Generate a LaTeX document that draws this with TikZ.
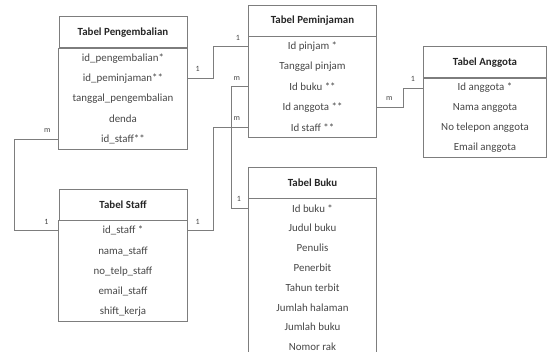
\documentclass[tikz,border=0pt]{standalone}
\usepackage{fontspec}
\setmainfont{Carlito}
\usepackage{tikz}
\usetikzlibrary{positioning, fit}
\usepackage{xcolor}
\definecolor{linegray}{RGB}{125,125,125}
\definecolor{textgray}{RGB}{70,70,70}
\tikzset{
  tabletitle/.style={
    rectangle, draw=linegray, line width=0.8pt, inner sep=0pt,
    minimum width=#1, minimum height=31pt,
    font=\fontsize{10.9}{12}\selectfont\bfseries, text=black!85
  },
  tabletitle/.default=128pt,
  field/.style={rectangle, inner sep=0pt, minimum width=#1, minimum height=19.8pt,
    font=\fontsize{10.9}{12}\selectfont, text=textgray},
  field/.default=128pt,
  shortfield/.style={field=#1, minimum height=19.4pt},
  shortfield/.default=128pt,
  tablebody/.style={rectangle, draw=linegray, line width=0.8pt, inner sep=0pt},
  link/.style={draw=linegray, line width=0.8pt},
  mult/.style={inner sep=0pt, font=\fontsize{8}{9}\selectfont, text=textgray}
}

\begin{document}
\begin{tikzpicture}[x=1pt, y=-1pt]
  \useasboundingbox (0,0) rectangle (547,352);

  % Tabel Pengembalian
  \node[tabletitle] (pg) at (123,32.2) {Tabel Pengembalian};
  \node[field, below=0pt of pg] (pg1) {id\_pengembalian*};
  \node[field, below=0pt of pg1] (pg2) {id\_peminjaman**};
  \node[field, below=0pt of pg2] (pg3) {tanggal\_pengembalian};
  \node[field, below=0pt of pg3] (pg4) {denda};
  \node[field, below=0pt of pg4] (pg5) {id\_staff**};
  \node[tablebody, fit=(pg1)(pg5)] (pgbody) {};

  % Tabel Peminjaman
  \node[tabletitle] (pj) at (312.5,20.5) {Tabel Peminjaman};
  \node[field, below=0pt of pj] (pj1) {Id pinjam *};
  \node[field, below=0pt of pj1] (pj2) {Tanggal pinjam};
  \node[field, below=0pt of pj2] (pj3) {Id buku **};
  \node[field, below=0pt of pj3] (pj4) {Id anggota **};
  \node[field, below=0pt of pj4] (pj5) {Id staff **};
  \node[tablebody, fit=(pj1)(pj5)] (pjbody) {};

  % Tabel Anggota
  \node[tabletitle=123pt] (ag) at (485,62.2) {Tabel Anggota};
  \node[shortfield=123pt, below=0pt of ag] (ag1) {Id anggota *};
  \node[shortfield=123pt, below=0pt of ag1] (ag2) {Nama anggota};
  \node[shortfield=123pt, below=0pt of ag2] (ag3) {No telepon anggota};
  \node[shortfield=123pt, below=0pt of ag3] (ag4) {Email anggota};
  \node[tablebody, fit=(ag1)(ag4)] (agbody) {};

  % Tabel Staff
  \node[tabletitle] (st) at (123,204.8) {Tabel Staff};
  \node[field, below=0pt of st] (st1) {id\_staff *};
  \node[field, below=0pt of st1] (st2) {nama\_staff};
  \node[field, below=0pt of st2] (st3) {no\_telp\_staff};
  \node[field, below=0pt of st3] (st4) {email\_staff};
  \node[field, below=0pt of st4] (st5) {shift\_kerja};
  \node[tablebody, fit=(st1)(st5)] (stbody) {};

  % Tabel Buku (runs past the bottom edge)
  \node[tabletitle] (bk) at (312.5,182.6) {Tabel Buku};
  \node[shortfield, below=0pt of bk] (bk1) {Id buku *};
  \node[shortfield, below=0pt of bk1] (bk2) {Judul buku};
  \node[shortfield, below=0pt of bk2] (bk3) {Penulis};
  \node[shortfield, below=0pt of bk3] (bk4) {Penerbit};
  \node[shortfield, below=0pt of bk4] (bk5) {Tahun terbit};
  \node[shortfield, below=0pt of bk5] (bk6) {Jumlah halaman};
  \node[shortfield, below=0pt of bk6] (bk7) {Jumlah buku};
  \node[shortfield, below=0pt of bk7] (bk8) {Nomor rak};
  \coordinate (bkend) at ([yshift=-8pt]bk8.south);
  \node[tablebody, fit=(bk1)(bk8)(bkend)] (bkbody) {};

  % relasi
  \draw[link] (pg2.east) node[mult, above right=6pt and 8pt] {1}
    -- ++(26,0) |- (pj1.west) node[mult, above left=6pt and 8pt] {1};
  \draw[link] (pj3.west) node[mult, above left=6pt and 8pt] {m}
    -- ++(-17,0) |- (bk1.west) node[mult, above left=6pt and 7pt] {1};
  \draw[link] (pj5.west) node[mult, above left=6pt and 8pt] {m}
    -- ++(-35,0) |- (st1.east) node[mult, above right=6pt and 8pt] {1};
  \draw[link] (pg5.west) node[mult, above left=6pt and 8pt] {m}
    -- ++(-44,0) |- (st1.west) node[mult, above left=6pt and 10pt] {1};
  \draw[link] (pj4.east) node[mult, above right=6pt and 9pt] {m}
    -- ++(26.5,0) |- (ag1.west) node[mult, above left=6pt and 8pt] {1};
\end{tikzpicture}
\end{document}
